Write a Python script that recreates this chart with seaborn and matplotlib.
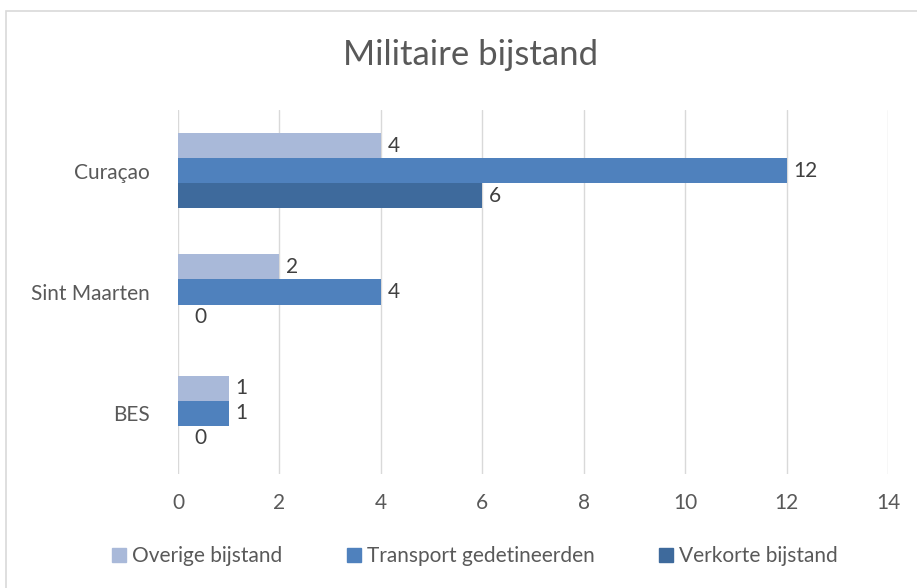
import matplotlib
matplotlib.use("Agg")
import matplotlib.pyplot as plt
import seaborn as sns
import pandas as pd
from matplotlib.patches import Rectangle

categories = ["Curaçao", "Sint Maarten", "BES"]
series_names = ["Overige bijstand", "Transport gedetineerden", "Verkorte bijstand"]
overige = [4, 2, 1]
transport = [12, 4, 1]
verkorte = [6, 0, 0]
x_ticks = [0, 2, 4, 6, 8, 10, 12, 14]
colors = ["#A9B9D9", "#4F81BD", "#3E6A9C"]

rows = []
for name, vals in zip(series_names, [overige, transport, verkorte]):
    for c, v in zip(categories, vals):
        rows.append({"Regio": c, "Serie": name, "Aantal": v})
df = pd.DataFrame(rows)

sns.set_theme(style="white")
plt.rcParams['font.family'] = ['Lato', 'DejaVu Sans']
text_color = "#595959"
fs = 15

fig = plt.figure(figsize=(9.17, 5.88), dpi=100)
ax = fig.add_axes([178/917, 1-474/588, (888-178)/917, (474-110)/588])

sns.barplot(data=df, y="Regio", x="Aantal", hue="Serie", order=categories,
            hue_order=series_names, palette=colors, orient="h", width=0.62,
            saturation=1, edgecolor="none", linewidth=0, ax=ax, legend=True)

ax.set_xlim(0, 14)
ax.set_xticks(x_ticks)
ax.set_xticklabels([str(t) for t in x_ticks], fontsize=fs, color=text_color)
ax.tick_params(axis="y", labelsize=fs, labelcolor=text_color, length=0, pad=20)
ax.tick_params(axis="x", length=0, pad=14)
ax.set_xlabel("")
ax.set_ylabel("")
ax.grid(axis="x", color="#D9D9D9", linewidth=1)
ax.set_axisbelow(True)
for s in ax.spines.values():
    s.set_visible(False)

for cont in ax.containers:
    for bar in cont:
        w = bar.get_width()
        yc = bar.get_y() + bar.get_height() / 2
        off = 5 if w > 0 else 12
        ax.annotate(f"{int(round(w))}", xy=(w, yc), xytext=(off, 0),
                    textcoords="offset points", va="center", ha="left",
                    fontsize=fs, color="#404040")

ax.legend_.remove()
handles = [Rectangle((0, 0), 1, 1, color=c) for c in colors]
fig.legend(handles, series_names, loc="center", bbox_to_anchor=(475/917, 1-556/588),
           ncol=3, frameon=False, fontsize=fs, labelcolor=text_color,
           handlelength=0.65, handleheight=0.65, handletextpad=0.3,
           columnspacing=3.1)

fig.text(471/917, 1-55/588, "Militaire bijstand", ha="center", va="center",
         fontsize=25, color=text_color)

fig.patches.append(Rectangle((6/917, -0.02), 1.0, 1-11/588 + 0.02,
                             transform=fig.transFigure, fill=False,
                             edgecolor="#D9D9D9", linewidth=1.2))

fig.savefig("out.png", dpi=100)
